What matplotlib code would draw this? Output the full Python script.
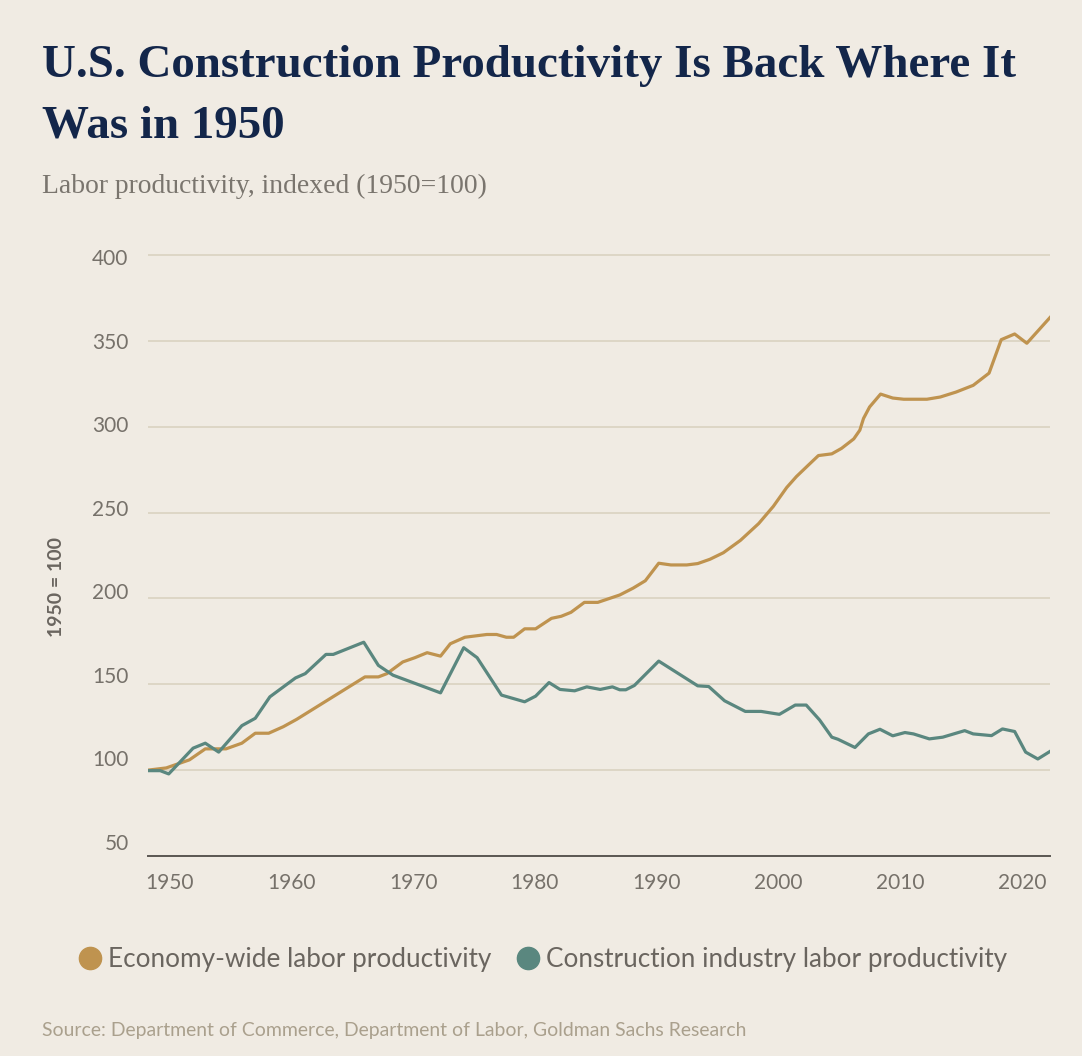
"""U.S. construction productivity vs. economy-wide productivity, indexed to 1950."""

import matplotlib

matplotlib.use("Agg")

import matplotlib.pyplot as plt
from matplotlib.lines import Line2D
from matplotlib.transforms import ScaledTranslation


ECON_YEARS = [
    1950.0, 1951.5, 1953.4, 1954.7, 1956.4, 1957.7, 1958.8, 1959.9, 1961.1, 1962.2,
    1967.8, 1968.9, 1969.6, 1970.9, 1971.9, 1972.9, 1974.0, 1974.8, 1976.0, 1977.8,
    1978.6, 1979.4, 1980.0, 1980.9, 1981.8, 1983.1, 1983.9, 1984.7, 1985.8, 1986.9,
    1988.7, 1989.8, 1990.8, 1991.9, 1992.9, 1994.2, 1995.1, 1996.1, 1997.2, 1998.6,
    2000.1, 2001.3, 2002.4, 2003.2, 2004.2, 2005.0, 2006.1, 2006.9, 2007.9, 2008.4,
    2008.7, 2009.2, 2010.1, 2011.1, 2012.0, 2013.9, 2015.0, 2016.3, 2017.7, 2019.0,
    2020.0, 2021.1, 2022.1, 2024.0,
]
ECON_VALUES = [
    100.0, 101.3, 106.0, 112.4, 112.4, 115.7, 121.5, 121.5, 125.3, 129.6,
    154.3, 154.3, 156.2, 163.0, 165.5, 168.4, 166.4, 173.6, 177.4, 179.0,
    179.0, 177.4, 177.4, 182.3, 182.3, 188.4, 189.6, 191.9, 197.7, 197.7,
    202.0, 206.0, 210.3, 220.5, 219.5, 219.5, 220.3, 222.8, 226.6, 233.8,
    243.6, 253.6, 264.6, 271.0, 277.8, 283.2, 284.2, 287.4, 292.9, 298.0,
    304.8, 311.5, 319.0, 316.7, 316.0, 316.0, 317.3, 320.2, 324.1, 331.2,
    350.7, 354.0, 348.6, 363.6,
]

CONSTR_YEARS = [
    1950.0, 1951.0, 1951.7, 1953.7, 1954.7, 1955.8, 1957.7, 1958.8, 1960.0, 1962.1,
    1962.9, 1964.6, 1965.2, 1967.7, 1968.9, 1970.1, 1974.0, 1975.9, 1977.0, 1979.0,
    1980.9, 1981.8, 1982.9, 1983.8, 1985.0, 1986.0, 1987.1, 1988.1, 1988.7, 1989.2,
    1989.9, 1991.9, 1995.1, 1996.0, 1997.3, 1999.0, 2000.3, 2001.8, 2003.1, 2004.0,
    2005.1, 2006.1, 2006.6, 2008.0, 2009.1, 2010.05, 2011.1, 2012.1, 2012.8, 2014.1,
    2015.2, 2017.0, 2017.7, 2019.2, 2020.1, 2021.1, 2022.0, 2023.0, 2024.0,
]
CONSTR_VALUES = [
    99.7, 99.7, 97.8, 112.8, 115.7, 110.5, 125.9, 130.2, 142.7, 153.7,
    156.2, 167.4, 167.4, 174.5, 161.0, 155.3, 145.0, 171.3, 165.5, 143.7,
    139.8, 143.1, 151.0, 147.0, 146.2, 148.5, 147.0, 148.5, 146.8, 146.8,
    149.3, 163.5, 149.1, 148.7, 140.4, 134.2, 134.2, 132.5, 137.9, 137.9,
    129.2, 119.2, 118.0, 113.2, 121.1, 123.8, 120.0, 121.9, 121.1, 118.2,
    119.2, 123.0, 121.1, 120.1, 124.0, 122.5, 110.5, 106.5, 110.9,
]

X_TICKS = [1950, 1960, 1970, 1980, 1990, 2000, 2010, 2020]
Y_TICKS = [50, 100, 150, 200, 250, 300, 350, 400]

TITLE = "U.S. Construction Productivity Is Back Where It\nWas in 1950"
SUBTITLE = "Labor productivity, indexed (1950=100)"
Y_LABEL = "1950 = 100"
ECON_LABEL = "Economy-wide labor productivity"
CONSTR_LABEL = "Construction industry labor productivity"
SOURCE = "Source: Department of Commerce, Department of Labor, Goldman Sachs Research"

BACKGROUND = "#f0ebe3"
NAVY = "#13264a"
GOLD = "#bf934f"
TEAL = "#5a877f"
GRID = "#ddd6c6"
TEXT_GRAY = "#6a655f"
TICK_GRAY = "#76716a"
SOURCE_GRAY = "#aaa08d"

FIG_W, FIG_H = 1082, 1056
SANS = ["Lato", "DejaVu Sans"]
SERIF = ["Liberation Serif", "DejaVu Serif"]


def fit_width(fig, text, target_px):
    """Scale a text's font size so its rendered width matches target_px."""
    renderer = fig.canvas.get_renderer()
    width = text.get_window_extent(renderer).width
    text.set_fontsize(text.get_fontsize() * target_px / width)


def main() -> None:
    fig = plt.figure(figsize=(FIG_W / 100, FIG_H / 100), dpi=100, facecolor=BACKGROUND)

    # axes box in pixels: x 148..1050, y-value 50 at 856 px, 400 at 255 px
    px_per_unit = (856 - 255) / 350
    y_top = 405
    top_px = 856 - (y_top - 50) * px_per_unit
    ax = fig.add_axes([
        148 / FIG_W,
        1 - 856 / FIG_H,
        (1050 - 148) / FIG_W,
        (856 - top_px) / FIG_H,
    ])
    ax.set_facecolor(BACKGROUND)

    ax.plot(ECON_YEARS, ECON_VALUES, color=GOLD, linewidth=2.3, solid_joinstyle="round", zorder=3)
    ax.plot(CONSTR_YEARS, CONSTR_VALUES, color=TEAL, linewidth=2.3, solid_joinstyle="round", zorder=4)

    ax.set_xlim(1950, 2024)
    ax.set_ylim(50, y_top)
    ax.set_xticks(X_TICKS)
    ax.set_yticks(Y_TICKS)
    ax.grid(axis="y", color=GRID, linewidth=1.4)
    ax.set_axisbelow(True)
    for side in ("top", "right", "left"):
        ax.spines[side].set_visible(False)
    ax.spines["bottom"].set_color("#5a5652")
    ax.spines["bottom"].set_linewidth(1.4)
    ax.tick_params(axis="both", length=0, labelsize=15, labelcolor=TICK_GRAY)
    ax.tick_params(axis="x", pad=12)
    ax.tick_params(axis="y", pad=14)

    for label in ax.get_xticklabels():
        label.set_horizontalalignment("left")
        label.set_fontfamily(SANS)
        label.set_transform(label.get_transform() + ScaledTranslation(-3 / 100, 0, fig.dpi_scale_trans))
    # the y labels in the original are spaced a little tighter than the grid
    for value, label in zip(Y_TICKS, ax.get_yticklabels()):
        label.set_fontfamily(SANS)
        shift_px = 2 - (400 - value) / 50 * 2.3
        label.set_transform(label.get_transform() + ScaledTranslation(0, -shift_px / 100, fig.dpi_scale_trans))

    fig.text(57 / FIG_W, 1 - 587 / FIG_H, Y_LABEL, rotation=90, ha="center", va="center",
             fontsize=14, fontweight="bold", color=TEXT_GRAY, family=SANS)

    title = fig.text(42 / FIG_W, 1 - 138 / FIG_H, TITLE, ha="left", va="baseline",
                     fontsize=38, fontweight="bold", color=NAVY, family=SERIF, linespacing=1.58)
    subtitle = fig.text(42 / FIG_W, 1 - 193 / FIG_H, SUBTITLE, ha="left", va="baseline",
                        fontsize=20, color="#7a756e", family=SERIF)
    source = fig.text(42 / FIG_W, 1 - 1036 / FIG_H, SOURCE, ha="left", va="baseline",
                      fontsize=12, color=SOURCE_GRAY, family=SANS)

    handles = [
        Line2D([], [], linestyle="none", marker="o", markersize=16, color=GOLD, label=ECON_LABEL),
        Line2D([], [], linestyle="none", marker="o", markersize=16, color=TEAL, label=CONSTR_LABEL),
    ]
    legend = fig.legend(handles=handles, loc="center", bbox_to_anchor=(0.502, 1 - 960 / FIG_H),
                        ncol=2, frameon=False, handlelength=0.8, handletextpad=0.3,
                        columnspacing=1.0, prop={"family": SANS, "size": 18.8})
    for text in legend.get_texts():
        text.set_color(TEXT_GRAY)

    fig.canvas.draw()
    # first title line runs 42..1015 px; the multi-line box is set by the longest line
    fit_width(fig, title, 1015 - 42)
    fit_width(fig, subtitle, 487 - 42)
    fit_width(fig, source, 744 - 42)

    fig.savefig("out.png", dpi=100, facecolor=BACKGROUND)
    plt.close(fig)


if __name__ == "__main__":
    main()
